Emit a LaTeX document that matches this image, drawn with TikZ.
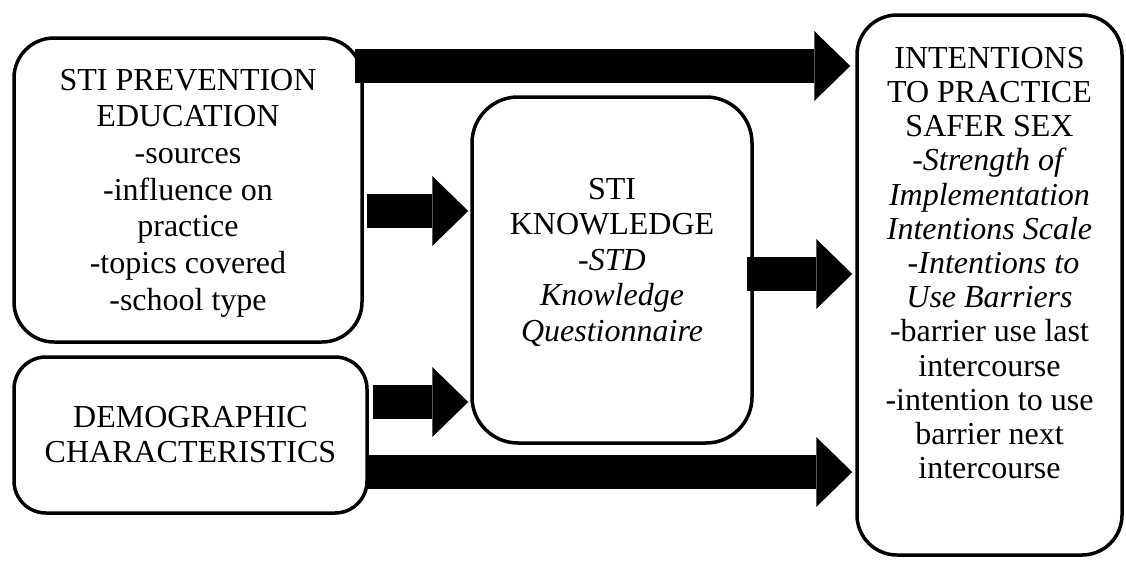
\documentclass[tikz,border=0pt]{standalone}
\usepackage{fontspec}
\setmainfont{Liberation Serif}
\usetikzlibrary{arrows.meta}

\begin{document}
\begin{tikzpicture}[x=1pt,y=-1pt,
    box/.style={draw,line width=3.5pt,inner sep=0pt},
    txt/.style={align=center,inner sep=0pt},
    bigarrow/.style={line width=34pt,-{Triangle[length=36pt,width=70pt,line width=0pt]}}]
    \useasboundingbox (0,0) rectangle (1126,560);
    \node[box,rounded corners=40pt,minimum width=348pt,minimum height=304pt] (A) at (188,190) {};
    \node[box,rounded corners=32pt,minimum width=353pt,minimum height=156pt] (B) at (190.5,435) {};
    \node[box,rounded corners=46pt,minimum width=280pt,minimum height=346pt] (C) at (612,270) {};
    \node[box,rounded corners=40pt,minimum width=265pt,minimum height=540pt] (D) at (989.5,285) {};
    \node[txt,font=\fontsize{32}{36.7}\selectfont] (Atxt) at ([yshift=-3pt]A.center)
        {STI PREVENTION\\EDUCATION\\-sources\\-influence on\\practice\\-topics covered\\-school type};
    \node[txt,font=\fontsize{32}{35}\selectfont] (Btxt) at (B.center)
        {DEMOGRAPHIC\\CHARACTERISTICS};
    \node[txt,font=\fontsize{32}{35.5}\selectfont] (Ctxt) at ([yshift=8pt]C.center)
        {STI\\KNOWLEDGE\\\textit{-STD}\\\textit{Knowledge}\\\textit{Questionnaire}};
    \node[txt,font=\fontsize{32}{34.2}\selectfont] (Dtxt) at ([yshift=22pt]D.center)
        {INTENTIONS\\TO PRACTICE\\SAFER SEX\\\textit{-Strength of}\\\textit{Implementation}\\\textit{Intentions Scale}\\~\textit{-Intentions to}\\\textit{Use Barriers}\\-barrier use last\\intercourse\\-intention to use\\barrier next\\intercourse};
    \draw[bigarrow,shorten <=-9pt,shorten >=5pt] (A.east |- 0,66) -- (D.west |- 0,66);
    \draw[bigarrow,shorten <=3pt,shorten >=2pt] (A.east |- 0,211) -- (C.west |- 0,211);
    \draw[bigarrow,shorten <=-7pt,shorten >=3pt] (C.east |- 0,274) -- (D.west |- 0,274);
    \draw[bigarrow,shorten <=4pt,shorten >=2pt] (B.east |- 0,402) -- (C.west |- 0,402);
    \draw[bigarrow,shorten <=-1pt,shorten >=3pt] (B.east |- 0,472) -- (D.west |- 0,472);
\end{tikzpicture}
\end{document}
